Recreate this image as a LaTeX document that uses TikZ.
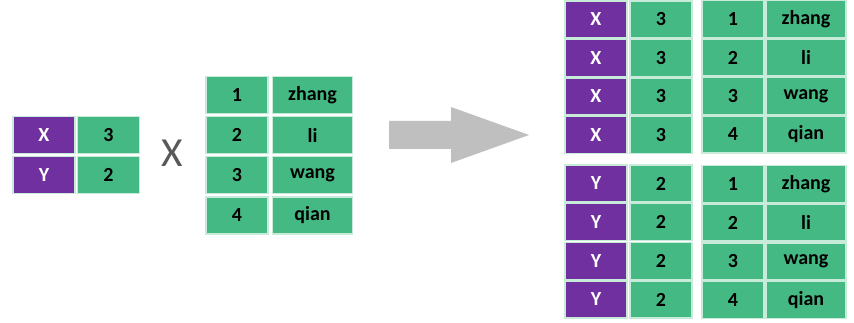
\documentclass[tikz,border=0pt]{standalone}
\usepackage{fontspec}
\setmainfont{Carlito}
\definecolor{cgreen}{HTML}{44B983}
\definecolor{cpurple}{HTML}{7030A0}
\definecolor{cedge}{HTML}{C8EBD9}
\definecolor{carrow}{HTML}{BFBFBF}
\definecolor{cx}{HTML}{595959}
\tikzset{
  cell/.style={rectangle, inner sep=0pt, outer sep=0pt, draw=cedge, line width=0.9pt,
    minimum height=27.75pt, font=\fontsize{15}{15}\selectfont\bfseries},
  keycell/.style={cell, fill=cpurple, text=white, minimum width=46.5pt},
  numcell/.style={cell, fill=cgreen, text=black, minimum width=46.5pt},
  namecell/.style={cell, fill=cgreen, text=black, minimum width=60pt},
  times/.style={text=cx, font=\fontsize{31}{31}\selectfont, inner sep=0pt},
  bigarrow/.style={fill=carrow, draw=none}
}
\begin{document}
\begin{tikzpicture}[x=0.75pt, y=-0.75pt]
\useasboundingbox (0,0) rectangle (854,323);
% left table
\node[keycell] (lX) at (44,135) {X};
\node[numcell] (l3) at (108.5,135) {3};
\node[keycell] (lY) at (44,175) {Y};
\node[numcell] (l2) at (108.5,175) {2};
% times sign
\node[times] (tm) at (172,153) {X};
% middle table
\foreach \n/\s/\y in {1/zhang/95, 2/li/135, 3/wang/175, 4/qian/215.5} {
  \node[numcell] (mn\n) at (237,\y) {\n};
  \node[namecell] (ms\n) at (312.5,\y) {\s};
}
% arrow
\fill[carrow] (389,121) -- (451,121) -- (451,107) -- (529,135) -- (451,163) -- (451,149) -- (389,149) -- cycle;
% right top
\foreach \n/\s/\y in {1/zhang/19.5, 2/li/58, 3/wang/96.5, 4/qian/135} {
  \node[keycell] (rtk\n) at (596,\y) {X};
  \node[numcell] (rtv\n) at (661,\y) {3};
  \node[numcell] (rtn\n) at (733,\y-0.5) {\n};
  \node[namecell] (rts\n) at (806,\y-0.5) {\s};
}
% right bottom
\foreach \n/\s/\y in {1/zhang/183.5, 2/li/222, 3/wang/261, 4/qian/299.5} {
  \node[keycell] (rbk\n) at (596,\y) {Y};
  \node[numcell] (rbv\n) at (661,\y) {2};
  \node[numcell] (rbn\n) at (733,\y+0.5) {\n};
  \node[namecell] (rbs\n) at (806,\y+0.5) {\s};
}
\end{tikzpicture}
\end{document}
